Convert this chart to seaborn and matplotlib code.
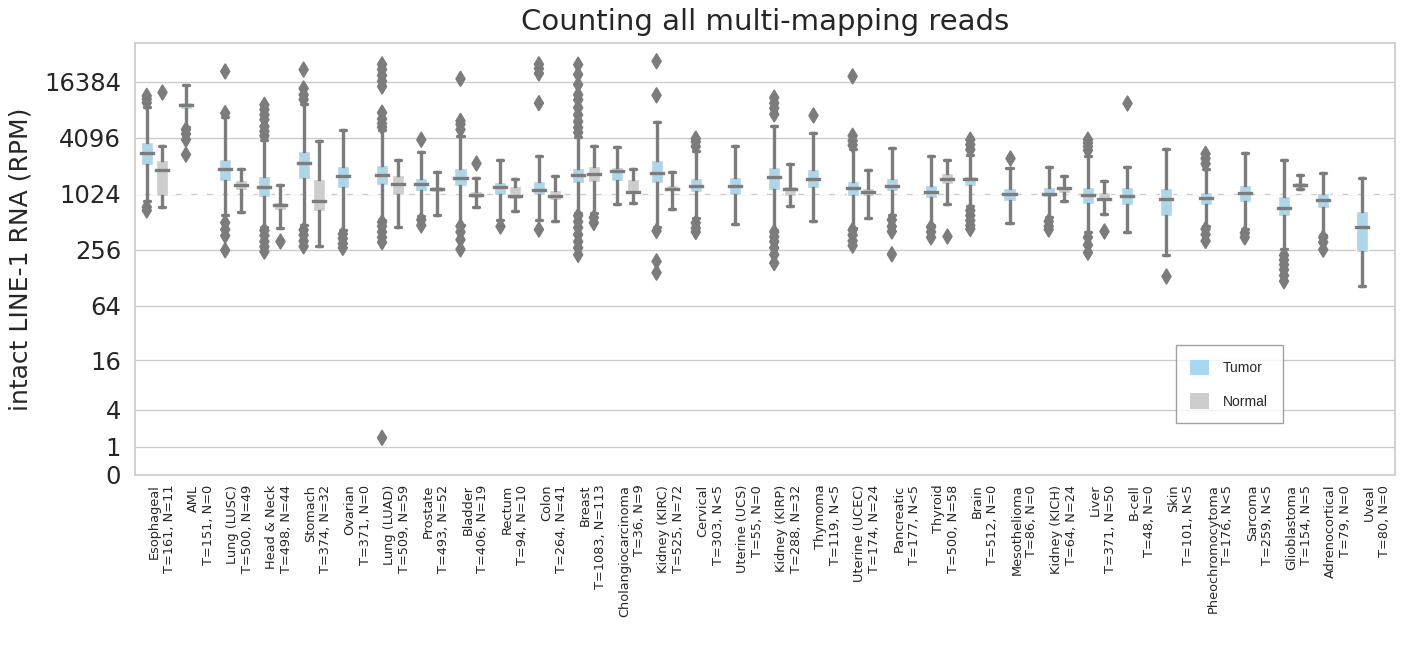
import numpy as np
import pandas as pd
import matplotlib
matplotlib.use("Agg")
import matplotlib.pyplot as plt
from matplotlib.patches import Patch
from matplotlib.transforms import ScaledTranslation
import seaborn as sns

# ---- data (RPM) -------------------------------------------------------------
cancers = [
    "Esophageal", "AML", "Lung (LUSC)", "Head & Neck", "Stomach", "Ovarian",
    "Lung (LUAD)", "Prostate", "Bladder", "Rectum", "Colon", "Breast",
    "Cholangiocarcinoma", "Kidney (KIRC)", "Cervical", "Uterine (UCS)",
    "Kidney (KIRP)", "Thymoma", "Uterine (UCEC)", "Pancreatic", "Thyroid",
    "Brain", "Mesothelioma", "Kidney (KICH)", "Liver", "B-cell", "Skin",
    "Pheochromocytoma", "Sarcoma", "Glioblastoma", "Adrenocortical", "Uveal",
]
tumor_counts = ["=161", "=151", "=500", "=498", "=374", "=371", "=509",
                "=493", "=406", "=94", "=264", "=1083", "=36", "=525", "=303",
                "=55", "=288", "=119", "=174", "=177", "=500", "=512", "=86",
                "=64", "=371", "=48", "=101", "=176", "=259", "=154", "=79",
                "=80"]
normal_counts = ["=11", "=0", "=49", "=44", "=32", "=0", "=59", "=52", "=19",
                 "=10", "=41", "=113", "=9", "=72", "<5", "=0", "=32", "<5",
                 "=24", "<5", "=58", "=0", "=0", "=24", "=50", "=0", "<5",
                 "<5", "<5", "=5", "=0", "=0"]

# Tumor boxes: lower whisker, Q1, median, Q3, upper whisker
tumor_low = [850, 5400, 612, 450, 470, 420, 540, 600, 477, 540, 540, 638,
             803, 450, 560, 490, 424, 520, 441, 612, 477, 760, 500, 580, 395,
             395, 227, 458, 435, 260, 374, 104]
tumor_q1 = [2100, 8300, 1425, 948, 1480, 1185, 1285, 1090, 1230, 1004, 988,
            1340, 1395, 1340, 1060, 988, 1115, 1185, 962, 1090, 918, 1250,
            850, 948, 796, 770, 597, 780, 840, 587, 722, 241]
tumor_median = [2780, 9100, 1900, 1200, 2180, 1605, 1620, 1315, 1515, 1200,
                1137, 1630, 1800, 1710, 1250, 1230, 1540, 1480, 1185, 1250,
                1080, 1470, 1024, 1024, 988, 980, 902, 924, 1040, 722, 886,
                451]
tumor_q3 = [3650, 9900, 2450, 1575, 2920, 2050, 2100, 1515, 1940, 1360, 1395,
            1940, 1990, 2340, 1515, 1550, 1990, 1890, 1395, 1515, 1285, 1605,
            1185, 1200, 1200, 1210, 1170, 1060, 1285, 962, 1040, 665]
tumor_high = [8700, 15200, 6900, 3900, 9300, 4900, 5000, 2850, 4300, 2340,
              2590, 4200, 3230, 5970, 2950, 3370, 5500, 4600, 3100, 3200,
              2630, 2700, 1940, 1970, 2590, 1970, 3100, 1900, 2820, 2380,
              1710, 1515]
tumor_outliers = [
    [680, 740, 9700, 10600, 11500],
    [2700, 3900, 4500, 5000],
    [254, 364, 424, 502, 7500, 21000],
    [246, 278, 316, 366, 415, 4300, 4800, 5400, 6400, 7200, 8200, 9200],
    [280, 320, 370, 420, 10500, 11800, 13800, 22000],
    [270, 300, 340, 380],
    [1.5, 310, 350, 400, 460, 510, 5300, 5800, 6500, 7600, 14500, 16500,
     19000, 22000, 25000],
    [470, 540, 3900],
    [260, 330, 400, 460, 5000, 5700, 6200, 17500],
    [458],
    [424, 9600, 20000, 22500, 25000],
    [227, 270, 315, 374, 445, 515, 597, 4650, 5250, 6100, 7200, 8600, 10400,
     11800, 15200, 19500, 24800],
    [],
    [146, 193, 410, 11650, 27000],
    [400, 440, 500, 3300, 3700, 4000],
    [],
    [185, 228, 270, 315, 355, 400, 7300, 8500, 9600, 11000],
    [7230],
    [285, 320, 370, 420, 3400, 3800, 4300, 18600],
    [230, 405, 458, 540],
    [350, 400, 450],
    [430, 470, 530, 600, 680, 3050, 3450, 3900],
    [2480],
    [425, 460, 520],
    [240, 290, 350, 3000, 3300, 3600, 3900],
    [9650],
    [135],
    [320, 375, 430, 2150, 2450, 2750],
    [350, 390],
    [118, 136, 157, 178, 200, 225],
    [258, 310, 350],
    [],
]

# Normal boxes (None where too few normal samples)
normal_low = [750, None, 648, 441, 280, None, 448, 612, 750, 665, 520, 638,
              819, 705, None, None, 765, None, 563, None, 803, None, None,
              850, 625, None, None, None, None, 1155, None, None]
normal_q1 = [980, None, 1115, 693, 665, None, 1004, 1060, 924, 902, 886, 1370,
             1024, 1090, None, None, 962, None, 962, None, 1300, None, None,
             1040, 850, None, None, None, None, 1180, None, None]
normal_median = [1845, None, 1285, 775, 866, None, 1315, 1155, 988, 962, 980,
                 1690, 1073, 1155, None, None, 1155, None, 1060, None, 1480,
                 None, None, 1170, 902, None, None, None, None, 1260, None,
                 None]
normal_q3 = [2340, None, 1455, 830, 1480, None, 1640, 1250, 1090, 1230, 1115,
             2020, 1490, 1285, None, None, 1250, None, 1185, None, 1710, None,
             None, 1230, 1073, None, None, None, None, 1360, None, None]
normal_high = [3370, None, 1890, 1285, 3740, None, 2340, 1740, 1515, 1480,
               1605, 3370, 1900, 1740, None, None, 2140, None, 1860, None,
               2380, None, None, 1575, 1395, None, None, None, None, 1640,
               None, None]
normal_outliers = [[12700], [], [], [316], [], [], [], [], [2190], [], [],
                   [500, 570], [], [], [], [], [], [], [], [], [364], [], [],
                   [], [405], [], [], [], [], [], [], []]

tick_values = [0, 1, 4, 16, 64, 256, 1024, 4096, 16384]

# ---- long-form tables --------------------------------------------------------
box_rows, out_rows = [], []
groups = {
    "Tumor": (tumor_low, tumor_q1, tumor_median, tumor_q3, tumor_high,
              tumor_outliers),
    "Normal": (normal_low, normal_q1, normal_median, normal_q3, normal_high,
               normal_outliers),
}
for tissue, (lo, q1, med, q3, hi, outs) in groups.items():
    for i, name in enumerate(cancers):
        if med[i] is not None:
            for v in (lo[i], q1[i], med[i], q3[i], hi[i]):
                box_rows.append((name, tissue, np.log2(v + 1)))
        for v in outs[i]:
            out_rows.append((name, tissue, np.log2(v + 1)))
box_df = pd.DataFrame(box_rows, columns=["cancer", "tissue", "log_rpm"])
out_df = pd.DataFrame(out_rows, columns=["cancer", "tissue", "log_rpm"])

# ---- styling -----------------------------------------------------------------
sns.set_theme(style="whitegrid")
plt.rcParams["font.family"] = ["DejaVu Sans"]

tumor_color = "#a6d8f1"
normal_color = "#cdcdcd"
line_color = "#7c7c7c"
hue_order = ["Tumor", "Normal"]

fig = plt.figure(figsize=(14.06, 6.49), dpi=100)
ax = fig.add_axes([135 / 1406, 1 - 475 / 649, 1260 / 1406, 432 / 649])

ax.axhline(np.log2(1024 + 1), color="white", lw=1.4, dashes=(5, 3),
           zorder=0.9)

sns.boxplot(
    data=box_df, x="cancer", y="log_rpm", hue="tissue",
    order=cancers, hue_order=hue_order,
    palette={"Tumor": tumor_color, "Normal": normal_color},
    whis=(0, 100), width=0.8, gap=0.23, linecolor=line_color,
    linewidth=2.4, fliersize=0, legend=False, ax=ax,
    boxprops={"edgecolor": "white", "linewidth": 1.0},
    medianprops={"solid_capstyle": "projecting"},
    whiskerprops={"solid_capstyle": "projecting"},
)

sns.stripplot(
    data=out_df, x="cancer", y="log_rpm", hue="tissue",
    order=cancers, hue_order=hue_order,
    palette={"Tumor": line_color, "Normal": line_color},
    dodge=True, jitter=False, marker="d", size=7.5, linewidth=1.2,
    edgecolor=line_color, legend=False, ax=ax, zorder=3,
)

ax.set_xlim(-0.5, 31.63)
ax.set_ylim(0, 15.37)
ax.set_yticks(np.log2(np.array(tick_values) + 1))
ax.set_yticklabels([str(v) for v in tick_values], fontsize=17.5)
ax.tick_params(axis="y", length=0, pad=10)

labels = [f"{c}\nT{t}, N{n}"
          for c, t, n in zip(cancers, tumor_counts, normal_counts)]
ax.set_xticks(range(len(cancers)))
ax.set_xticklabels(labels, rotation=90, fontsize=9.3, multialignment="right")
ax.tick_params(axis="x", length=0, pad=7)
shift = ScaledTranslation(7 / 100, 0, fig.dpi_scale_trans)
for lbl in ax.get_xticklabels():
    lbl.set_transform(lbl.get_transform() + shift)

ax.set_xlabel("")
ax.set_ylabel("intact LINE-1 RNA (RPM)", fontsize=18, labelpad=8)
ax.set_title("Counting all multi-mapping reads", fontsize=21, pad=9)

handles = [Patch(facecolor=tumor_color, edgecolor="none", label="Tumor"),
           Patch(facecolor=normal_color, edgecolor="none", label="Normal")]
leg = ax.legend(handles=handles, loc="upper left",
                bbox_to_anchor=(0.826, 0.301), frameon=True, fancybox=False,
                prop={"family": "Liberation Sans", "size": 10},
                handlelength=1.35, handleheight=1.35, handletextpad=1.0,
                labelspacing=1.3, borderpad=1.05, borderaxespad=0)
leg.get_frame().set_edgecolor("#8a8a8a")
leg.get_frame().set_linewidth(1.0)

fig.savefig("out.png", dpi=100)
